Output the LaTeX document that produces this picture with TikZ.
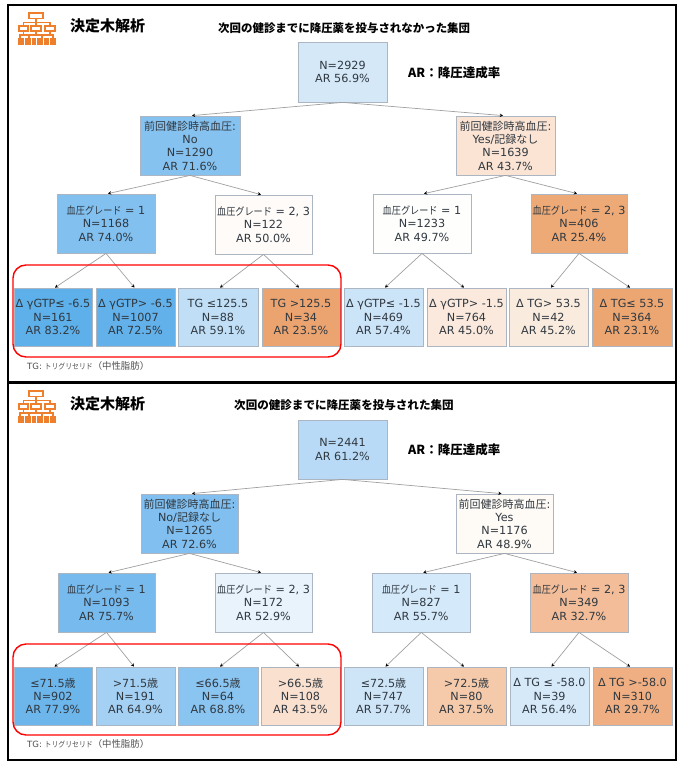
\documentclass[tikz,border=0pt]{standalone}
\usepackage{fontspec}
\setmainfont{DejaVu Sans}
\newfontfamily\cjk{Noto Sans CJK JP}
\newfontfamily\cjkn{Noto Sans CJK JP}[FakeStretch=0.88]
\usetikzlibrary{arrows.meta}
\definecolor{txt}{HTML}{303840}
\definecolor{edgegray}{HTML}{A0A0A0}
\definecolor{boxline}{HTML}{ABB6C2}
\definecolor{iconor}{HTML}{EE7F2D}
\definecolor{notegray}{HTML}{505050}
\newcommand{\treebox}[7]{%
  \definecolor{c#1}{HTML}{#6}%
  \node[treenode,fill=c#1,minimum width={(#4-#2)*1pt},minimum height={(#5-#3)*1pt}] (#1) at ({(#2+#4)/2},{(#3+#5)/2}) {#7};}
\newcommand{\conn}[3]{\draw[connline] (#1.south) -- ([xshift=#3 pt]#2.north);}
\newcommand{\GR}{{\cjkn\fontsize{10.4}{13.3}\selectfont 血圧グレード}}
\newcommand{\PH}{{\cjk\fontsize{11}{13.3}\selectfont 前回健診時高血圧}:}
\newcommand{\JP}[1]{{\cjk\fontsize{11}{13.3}\selectfont #1}}
\newcommand{\DEC}{{\cjk\bfseries\fontsize{15}{18}\selectfont 決定木解析}}
\newcommand{\ARL}{{\cjk\bfseries\fontsize{12.5}{15}\selectfont AR：降圧達成率}}
\newcommand{\TGnote}{{\fontsize{8.6}{10}\selectfont TG: }{\cjkn\fontsize{7.8}{10}\selectfont トリグリセリド}{\cjk\fontsize{9.4}{10}\selectfont （中性脂肪）}}
\newcommand{\treeicon}[1]{%
  \begin{scope}[yshift=#1 pt,iconline]
    \draw (29,13) rectangle (43,18.5);
    \draw (19,26) rectangle (28,31);
    \draw (31,26) rectangle (41,31);
    \draw (45,26) rectangle (55,31);
    \draw (36,18.5) -- (36,26);
    \draw (23.5,26) -- (23.5,22.5) -- (50,22.5) -- (50,26);
    \draw (23.5,31) -- (23.5,35);
    \draw (36,31) -- (36,35);
    \draw (50,31) -- (50,35);
    \draw (20,38) -- (20,35) -- (53,35) -- (53,38);
    \draw (29,35) -- (29,38) (42,35) -- (42,38);
    \fill (17.5,38) rectangle (23.5,45);
    \fill (24.5,38) rectangle (30.5,45);
    \fill (31.5,38) rectangle (36,45);
    \fill (37,38) rectangle (42.5,45);
    \fill (43.5,38) rectangle (49,45);
    \fill (50,38) rectangle (56,45);
  \end{scope}}
\begin{document}
\begin{tikzpicture}[x=1pt,y=-1pt,
  treenode/.style={draw=boxline,line width=0.8pt,inner sep=0pt,align=center,text=txt,
    font=\fontsize{11.2}{13.3}\selectfont},
  connline/.style={draw=edgegray,line width=0.7pt,-{Stealth[length=3.2pt,width=3.4pt,black]}},
  panel/.style={draw=black,line width=1.6pt},
  redbox/.style={draw=red,line width=1.4pt,rounded corners=13pt},
  iconline/.style={draw=iconor,fill=iconor,line width=1.7pt},
  titletext/.style={inner sep=0pt,text=black},
  notetext/.style={inner sep=0pt,anchor=west,text=notegray}]
\useasboundingbox (0,0) rectangle (685,768);
\fill[white] (0,0) rectangle (685,768);
\draw[panel] (8,5) rectangle (676,382);
\draw[panel] (8,383) rectangle (676,760);
\treeicon{0}
\treeicon{-378}
% panel 1
\node[titletext,anchor=west] (t1a) at (70,26) {\DEC};
\node[titletext,anchor=west] (t1b) at (218,28) {\cjk\bfseries\fontsize{11.45}{14}\selectfont 次回の健診までに降圧薬を投与されなかった集団};
\node[titletext,anchor=west] (t1c) at (408,73) {\ARL};
\treebox{ar}{298}{42}{387}{102}{D4E8F8}{N=2929\\AR 56.9\%}
\treebox{al}{140}{116}{240}{175}{86C2F0}{\PH\\No\\N=1290\\AR 71.6\%}
\treebox{ary}{456}{116}{555}{175}{FBE4D4}{\PH\\Yes/\JP{記録なし}\\N=1639\\AR 43.7\%}
\treebox{aa}{57}{194}{155}{253}{82C0F0}{\GR{} = 1\\N=1168\\AR 74.0\%}
\treebox{ab}{215}{195}{312}{254}{FEFBF8}{\GR{} = 2, 3\\N=122\\AR 50.0\%}
\treebox{ac}{373}{194}{471}{253}{FEFEFD}{\GR{} = 1\\N=1233\\AR 49.7\%}
\treebox{ad}{531}{194}{627}{253}{EDA976}{\GR{} = 2, 3\\N=406\\AR 25.4\%}
\treebox{a1}{14}{288}{92}{346}{5EB0EA}{Δ γGTP≤ -6.5\\N=161\\AR 83.2\%}
\treebox{a2}{96}{288}{175}{346}{62B1EA}{Δ γGTP> -6.5\\N=1007\\AR 72.5\%}
\treebox{a3}{178}{288}{258}{346}{C0DFF6}{TG ≤125.5\\N=88\\AR 59.1\%}
\treebox{a4}{262}{288}{340}{346}{EBA470}{TG >125.5\\N=34\\AR 23.5\%}
\treebox{a5}{344}{288}{423}{346}{CCE4F8}{Δ γGTP≤ -1.5\\N=469\\AR 57.4\%}
\treebox{a6}{427}{288}{506}{346}{FAE9DC}{Δ γGTP> -1.5\\N=764\\AR 45.0\%}
\treebox{a7}{509}{288}{588}{346}{FAEBDF}{Δ TG> 53.5\\N=42\\AR 45.2\%}
\treebox{a8}{592}{288}{672}{346}{ECA672}{Δ TG≤ 53.5\\N=364\\AR 23.1\%}
\conn{ar}{al}{2}\conn{ar}{ary}{-2.5}
\conn{al}{aa}{2}\conn{al}{ab}{-2.5}
\conn{ary}{ac}{2}\conn{ary}{ad}{-2}
\conn{aa}{a1}{2}\conn{aa}{a2}{-1}
\conn{ab}{a3}{2}\conn{ab}{a4}{-2}
\conn{ac}{a5}{1.5}\conn{ac}{a6}{-2.5}
\conn{ad}{a7}{2.5}\conn{ad}{a8}{-2}
\draw[redbox] (13,265) rectangle (341,357);
\node[notetext] (n1) at (27,366) {\TGnote};
% panel 2
\node[titletext,anchor=west] (t2a) at (70,404) {\DEC};
\node[titletext,anchor=west] (t2b) at (234,405) {\cjk\bfseries\fontsize{11.55}{14}\selectfont 次回の健診までに降圧薬を投与された集団};
\node[titletext,anchor=west] (t2c) at (408,450) {\ARL};
\treebox{br}{298}{420}{387}{479}{B8DAF6}{N=2441\\AR 61.2\%}
\treebox{bl}{141}{494}{238}{553}{80BFEF}{\PH\\No/\JP{記録なし}\\N=1265\\AR 72.6\%}
\treebox{bry}{456}{494}{553}{553}{FEFAF5}{\PH\\Yes\\N=1176\\AR 48.9\%}
\treebox{ba}{58}{573}{155}{632}{76BAEE}{\GR{} = 1\\N=1093\\AR 75.7\%}
\treebox{bb}{215}{573}{312}{632}{E8F3FC}{\GR{} = 2, 3\\N=172\\AR 52.9\%}
\treebox{bc}{372.5}{573}{470}{632}{D4E9F9}{\GR{} = 1\\N=827\\AR 55.7\%}
\treebox{bd}{530}{573}{628}{632}{F2BD98}{\GR{} = 2, 3\\N=349\\AR 32.7\%}
\treebox{b1}{14}{667}{92}{725}{6DB6EC}{≤71.5\JP{歳}\\N=902\\AR 77.9\%}
\treebox{b2}{96}{667}{175}{725}{A4D0F3}{>71.5\JP{歳}\\N=191\\AR 64.9\%}
\treebox{b3}{178}{667}{258}{725}{8AC4F0}{≤66.5\JP{歳}\\N=64\\AR 68.8\%}
\treebox{b4}{261}{667}{340}{725}{F9E0CF}{>66.5\JP{歳}\\N=108\\AR 43.5\%}
\treebox{b5}{344}{667}{423}{725}{CEE5F8}{≤72.5\JP{歳}\\N=747\\AR 57.7\%}
\treebox{b6}{427}{667}{506}{725}{F5CAAA}{>72.5\JP{歳}\\N=80\\AR 37.5\%}
\treebox{b7}{510}{667}{589}{725}{D6E9F9}{Δ TG ≤ -58.0\\N=39\\AR 56.4\%}
\treebox{b8}{593}{667}{672}{725}{EFAF82}{Δ TG >-58.0\\N=310\\AR 29.7\%}
\conn{br}{bl}{2.5}\conn{br}{bry}{-3}
\conn{bl}{ba}{2}\conn{bl}{bb}{-2.5}
\conn{bry}{bc}{2}\conn{bry}{bd}{-2}
\conn{ba}{b1}{1.5}\conn{ba}{b2}{-1.5}
\conn{bb}{b3}{2}\conn{bb}{b4}{-1.5}
\conn{bc}{b5}{2}\conn{bc}{b6}{-2.5}
\conn{bd}{b7}{2}\conn{bd}{b8}{-2.5}
\draw[redbox] (13,644) rectangle (341,735);
\node[notetext] (n2) at (27,744) {\TGnote};
\end{tikzpicture}
\end{document}
